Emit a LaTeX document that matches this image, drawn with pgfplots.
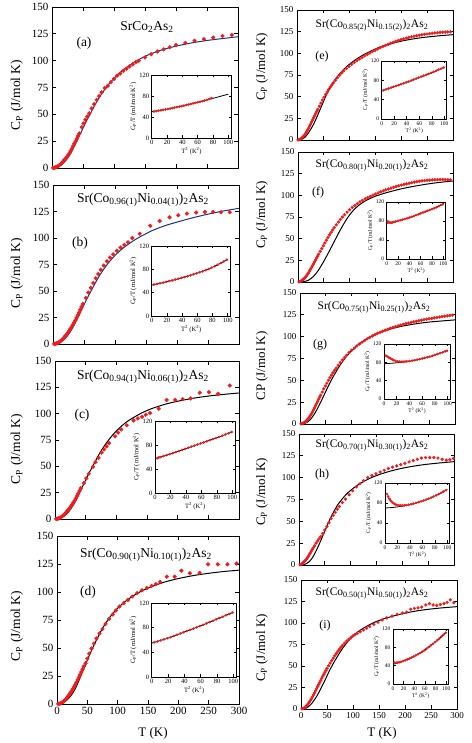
\documentclass[border=0pt]{standalone}
\usepackage{fontspec}
\setmainfont{Liberation Serif}
\usepackage{pgfplots}
\pgfplotsset{compat=1.18}
\definecolor{fitblue}{RGB}{30,50,130}
\definecolor{datred}{RGB}{238,28,28}
\newcommand{\fs}[1]{\fontsize{#1}{#1}\selectfont}
\newcommand{\cmp}[2]{Sr(Co\textsubscript{#1}Ni\textsubscript{#2})\textsubscript{2}As\textsubscript{2}}
\newcommand{\cpl}{C\textsubscript{P} (J/mol K)}

\pgfplotsset{
  mainL/.style={scale only axis, anchor=south west, xmin=0, xmax=300, ymin=0, ymax=150,
    xtick={0,50,...,300}, ytick={0,25,...,150}, tick align=inside, major tick length=4pt,
    axis line style={line width=0.9pt}, tick style={black, line width=0.7pt},
    /pgf/number format/assume math mode=true,
    tick label style={font=\fs{11}}},
  mainR/.style={mainL, tick label style={font=\fs{9}}, major tick length=3.5pt},
  ins/.style={scale only axis, anchor=south west, xmin=0, xmax=104, ymin=0, ymax=120,
    xtick={0,20,...,100}, ytick={0,40,80,120}, tick align=inside, major tick length=2.5pt,
    axis line style={line width=0.7pt}, tick style={black, line width=0.5pt},
    /pgf/number format/assume math mode=true,
    tick label style={font=\fs{6.5}}, label style={font=\fs{6.5}},
    xticklabel style={yshift=1pt}, yticklabel style={xshift=1pt},
    xlabel={T\textsuperscript{2} (K\textsuperscript{2})},
    ylabel={C\textsubscript{P}/T (mJ/mol K\textsuperscript{2})},
    xlabel style={yshift=4pt}, ylabel style={yshift=-4pt},
    axis background/.style={fill=white}},
  insR/.style={ins, tick label style={font=\fs{5.5}}, label style={font=\fs{5.5}}},
  dat/.style={only marks, mark=*, mark size=1.9pt, color=datred},
  datR/.style={only marks, mark=*, mark size=1.45pt, color=datred},
  idat/.style={only marks, mark=*, mark size=1.1pt, color=datred},
  fit/.style={black, line width=1pt, no marks, smooth},
  ifit/.style={black, line width=0.8pt, no marks, smooth},
}

\begin{document}
\begin{tikzpicture}
\path[use as bounding box] (0pt,0pt) rectangle (471pt,743pt);

% ---------------- (a)
\begin{axis}[mainL, at={(52pt,575pt)}, width=186pt, height=161pt, xticklabels={}]
\addplot[dat] coordinates {(2,0.1)(4,0.3)(6,0.6)(8,1.1)(10,1.8)(12,2.7)(14,3.7)(16,4.9)(18,6.1)(20,7.5)(22,8.9)(24,10.3)(26,11.9)(28,13.8)(30,15.9)(32,18)(34,20.3)(36,22.6)(38,25)(40,27.3)(42,29.7)(44,32.2)(48,38)(51,41.5)(54,45)(57,48)(60,51)(64,55.5)(68,59.5)(72,63.5)(76,67)(80,70.5)(85,74.5)(90,76.5)(95,80)(100,83)(105,86)(110,88)(115,90.5)(120,92.5)(125,94.5)(130,96.5)(135,98.5)(140,100)(150,103)(160,106)(170,108.5)(180,110.5)(190,112.5)(200,114.5)(215,116.5)(230,118.5)(245,120)(260,121.5)(275,123)(290,124)};
\addplot[fit, fitblue] coordinates {(0,0)(5,0.2)(10,1.0)(15,2.8)(20,5.5)(25,9)(30,13.5)(35,19)(40,25)(45,31)(50,37)(55,43)(60,48.5)(65,54)(70,59.5)(75,64.5)(80,69)(90,77)(100,83.5)(110,89)(120,93.5)(130,97.5)(140,101)(150,104)(160,106.5)(180,110.5)(200,113.5)(225,116.5)(250,118.8)(275,120.6)(300,122.3)};
\end{axis}
\begin{axis}[ins, at={(151.7pt,605pt)}, width=79.7pt, height=63pt]
\addplot[idat] coordinates {(3,50.5)(6,51.2)(9,52)(12,52.8)(15,53.6)(18,54.4)(21,55.2)(24,56)(27,56.8)(30,57.8)(33,58.8)(36,59.8)(39,60.8)(42,61.8)(45,62.8)(48,63.8)(51,64.8)(54,65.8)(57,66.9)(60,68)(63,69)(66,70.2)(69,71.4)(72,72.7)(75,74.2)(78,76)};
\addplot[ifit] coordinates {(0,50)(10,52.5)(20,55)(30,58)(40,61)(50,64.5)(60,68)(70,71.5)(80,75.5)(90,79.5)(100,83.5)};
\end{axis}

% ---------------- (b)
\begin{axis}[mainL, at={(53pt,399pt)}, width=186pt, height=159pt, xticklabels={}]
\addplot[dat] coordinates {(2,0.1)(4,0.3)(6,0.6)(8,1.1)(10,1.8)(12,2.7)(14,3.7)(16,4.9)(18,6.2)(20,7.6)(22,9.1)(24,10.7)(26,12.4)(28,14.2)(30,16.1)(32,18.1)(34,20.2)(36,22.4)(38,24.7)(40,27.1)(42,29.6)(44,32.2)(46,35)(48,37.8)(53,43.5)(57,48.5)(61,53)(65,57.5)(69,62)(73,66)(77,70)(82,74)(87,78)(92,81.5)(97,84.5)(103,88)(109,91)(115,93.5)(121,96)(128,100)(140,104)(157,111.5)(172,116)(188,119.5)(202,121.5)(216,123)(231,124)(245,124.5)(258,124.5)(271,124.3)(285,124.3)};
\addplot[fit, fitblue] coordinates {(0,0)(5,0.2)(10,1.0)(15,2.8)(20,5.5)(25,9)(30,13.5)(35,19)(40,25)(45,31)(50,37)(55,43)(60,48.5)(65,54)(70,59.5)(75,64.5)(80,69)(90,77)(100,83.5)(110,89)(120,93.5)(130,97.5)(140,101)(150,104)(160,107)(180,111.5)(200,115)(225,119)(250,122.5)(275,125.5)(300,128)};
\end{axis}
\begin{axis}[ins, at={(151.7pt,427pt)}, width=79pt, height=70pt]
\addplot[idat] coordinates {(3,53.8)(7,55)(11,56.2)(15,57.3)(19,58.6)(23,59.8)(27,61)(31,62.4)(35,63.8)(39,65.2)(43,66.6)(47,68.1)(51,69.7)(55,71.4)(59,73.1)(63,74.9)(67,76.6)(71,78.5)(75,80.6)(79,82.9)(83,85.4)(87,88)(91,90.7)(95,93.6)(99,96.5)};
\addplot[ifit] coordinates {(0,53)(10,55.8)(20,58.8)(30,62)(40,65.5)(50,69.3)(60,73.5)(70,78)(80,83.5)(90,90)(100,97)};
\end{axis}

% ---------------- (c)
\begin{axis}[mainL, at={(55pt,224pt)}, width=184pt, height=158pt, xticklabels={}]
\addplot[dat] coordinates {(2,0.1)(4,0.3)(6,0.6)(8,1.1)(10,1.8)(12,2.7)(14,3.7)(16,4.9)(18,6.1)(20,7.5)(22,8.9)(24,10.4)(26,12)(28,13.7)(30,15.5)(32,17.5)(34,19.6)(36,21.8)(38,24.2)(40,26.7)(42,29.2)(47,34)(51,38.6)(55,43)(62,49.6)(66,54)(71,58)(76,63)(80,66)(84,69)(88,72)(98,78.5)(103,82)(108,85)(117,89)(128,93.6)(135,95.5)(142,97)(148,99)(155,100.6)(169,104.7)(182,113)(196,113)(208,113.8)(221,114.5)(236,119.8)(251,120.4)(266,118.9)(285,126.7)};
\addplot[fit] coordinates {(0,0)(5,0.2)(10,1.0)(15,2.8)(20,5.5)(25,9)(30,13.5)(35,19)(40,25)(45,31)(50,37)(55,43)(60,48.5)(65,54)(70,59.5)(75,64.5)(80,69)(90,77)(100,83.5)(110,89)(120,93.5)(130,97)(140,100.3)(150,103)(160,105.3)(180,109)(200,111.8)(225,114.6)(250,116.7)(275,118.3)(300,119.6)};
\end{axis}
\begin{axis}[ins, at={(155pt,250pt)}, width=80.4pt, height=72pt]
\addplot[idat] coordinates {(3,58)(5,59.3)(7,59.8)(11,61.5)(15,63)(19,64.8)(23,66.4)(27,68.1)(31,70)(35,71.8)(39,73.6)(43,75.4)(47,77.2)(51,79)(55,80.8)(59,82.6)(63,84.3)(67,86.1)(71,88)(75,89.8)(79,91.6)(83,93.5)(87,95.5)(91,97.5)(95,99.5)(99,101.5)};
\addplot[ifit] coordinates {(0,57)(10,61)(20,65)(30,69.5)(40,74)(50,78.5)(60,83)(70,87.5)(80,92)(90,97)(100,102)};
\end{axis}

% ---------------- (d)
\begin{axis}[mainL, at={(57pt,39pt)}, width=182pt, height=168pt]
\addplot[dat] coordinates {(2,0.1)(4,0.3)(6,0.6)(8,1.2)(10,2)(12,2.9)(14,4)(16,5.3)(18,6.7)(20,8.2)(22,9.8)(24,11.5)(26,13.3)(28,15.2)(30,17.2)(32,19.3)(34,21.5)(36,23.8)(38,26.2)(40,28.6)(42,31)(44,33.5)(47,36.3)(50,40.5)(53,45)(57,49.5)(61,54)(65,58.5)(70,63)(75,67)(80,71.5)(86,76)(92,80)(97,83.5)(103,87)(110,90)(117,93)(124,96)(132,99)(140,101.5)(148,103.5)(156,105.5)(163,107)(170,109)(181,113.7)(194,113.7)(205,119)(219,116.7)(235,117)(249,124.7)(265,124.7)(281,124.7)(296,125.5)};
\addplot[fit] coordinates {(0,0)(5,0.2)(10,1.0)(15,2.8)(20,5.5)(25,9)(30,13.5)(35,19.5)(40,26)(45,32.5)(50,39)(55,45.5)(60,51.5)(65,57)(70,62.5)(75,67.5)(80,72)(90,79.5)(100,85.5)(110,90.5)(120,94.5)(130,98)(140,101)(150,103.5)(160,105.7)(180,109.3)(200,112)(225,114.7)(250,116.7)(275,118.3)(300,119.5)};
\end{axis}
\begin{axis}[ins, at={(151.7pt,66pt)}, width=84.9pt, height=74pt]
\addplot[idat] coordinates {(3,56)(7,57.5)(11,59.4)(15,61)(19,62.8)(23,64.5)(27,66.4)(31,68.5)(35,70.5)(39,72.5)(43,74.5)(47,76.5)(51,78.5)(55,80.5)(59,82.5)(63,84.6)(67,86.8)(71,89)(75,91.2)(79,93.4)(83,95.6)(87,97.8)(91,100)(95,102.3)(99,104.5)};
\addplot[ifit] coordinates {(0,55)(10,59)(20,63)(30,68)(40,73)(50,78)(60,83)(70,88.5)(80,94)(90,99.5)(100,105)};
\end{axis}

% ---------------- (e)
\begin{axis}[mainR, at={(297pt,603pt)}, width=156pt, height=130pt, xticklabels={}]
\addplot[datR] coordinates {(2,0.1)(4,0.4)(6,0.9)(8,1.7)(10,2.7)(12,4)(14,5.5)(16,7.2)(18,9.1)(20,11.2)(22,13.4)(24,15.7)(26,18.1)(28,20.6)(30,23.1)(32,25.6)(34,28.1)(36,30.6)(38,33)(40,35.4)(43,39)(46,42.5)(49,46)(52,49.3)(55,52.5)(58,55.5)(61,58.3)(64,61)(67,63.5)(70,66)(74,69)(78,72)(82,74.8)(86,77.4)(90,79.8)(95,82.5)(100,85)(105,87.3)(110,89.5)(115,91.5)(120,93.5)(125,95.3)(130,97.1)(135,98.8)(140,100.4)(145,102)(150,103.5)(155,105)(160,106.4)(165,107.8)(170,109.1)(175,110.4)(180,111.6)(185,112.7)(190,113.8)(195,114.8)(200,115.8)(205,116.7)(210,117.5)(215,118.3)(220,119)(225,119.7)(230,120.3)(235,120.9)(240,121.4)(245,121.9)(250,122.3)(255,122.7)(260,123.1)(265,123.5)(270,123.8)(275,124.1)(280,124.3)(285,124.5)(290,124.7)(295,124.8)};
\addplot[fit] coordinates {(0,0)(5,0.2)(10,1)(15,3)(20,6.5)(25,11)(30,16)(35,22)(40,29)(45,36)(50,43)(55,50)(60,56.5)(65,62)(70,67)(80,75)(90,81.5)(100,87)(110,91.5)(120,95.5)(130,99)(140,102)(150,104.8)(160,107.2)(180,111)(200,114)(225,116.8)(250,118.8)(275,120.3)(300,121.5)};
\end{axis}
\begin{axis}[insR, at={(381.7pt,624pt)}, width=65.1pt, height=58pt]
\addplot[idat] coordinates {(3,59.5)(7,61.3)(11,63.1)(15,64.9)(19,66.7)(23,68.4)(27,70.2)(31,72)(35,73.8)(39,75.6)(43,77.5)(47,79.5)(51,81.5)(55,83.5)(59,85.5)(63,87.5)(67,89.5)(71,91.5)(75,93.5)(79,95.5)(83,97.6)(87,99.8)(91,102)(95,104.2)(99,106.5)};
\addplot[ifit] coordinates {(0,58)(10,62.5)(20,67)(30,71.5)(40,76)(50,81)(60,86)(70,91)(80,96)(90,101.5)(100,107)};
\end{axis}

% ---------------- (f)
\begin{axis}[mainR, at={(298pt,461pt)}, width=155pt, height=130pt, xticklabels={}]
\addplot[datR] coordinates {(2,0.2)(4,0.6)(6,1.2)(8,2)(10,2.9)(12,4)(14,5.3)(16,6.8)(18,8.5)(20,10.3)(22,12.3)(24,14.4)(26,16.6)(28,18.8)(30,21)(32,23.2)(34,25.4)(36,27.6)(38,29.8)(40,32)(43,35.3)(46,38.6)(49,41.8)(52,45)(55,48.2)(58,51.3)(61,54.3)(64,57.2)(67,60)(70,62.7)(74,66)(78,69.2)(82,72.2)(86,75)(90,77.6)(95,80.6)(100,83.4)(105,86)(110,88.3)(115,90.4)(120,92.4)(125,94.2)(130,95.9)(135,97.4)(140,98.8)(145,100.2)(150,101.5)(155,102.8)(160,104)(165,105.2)(170,106.3)(175,107.3)(180,108.3)(185,109.3)(190,110.2)(195,111)(200,111.8)(205,112.6)(210,113.3)(215,114)(220,114.6)(225,115.2)(230,115.7)(235,116.2)(240,116.6)(245,117)(250,117.4)(255,117.6)(260,117.8)(265,118)(270,118.1)(275,118.2)(280,118.2)(285,118.1)(290,118)(295,117.9)};
\addplot[fit] coordinates {(0,0)(10,0.3)(20,2)(30,6.5)(40,14)(50,24)(60,35)(70,46.5)(80,58)(90,68.5)(100,77.5)(110,84.5)(120,89.5)(130,93.5)(140,96.5)(150,99)(165,102)(180,104.5)(200,107.5)(225,110.5)(250,113)(275,115)(300,116.5)};
\end{axis}
\begin{axis}[insR, at={(386.7pt,484pt)}, width=58.9pt, height=57pt]
\addplot[idat] coordinates {(2,79)(4,77.5)(6,76.5)(8,76.5)(10,77)(13,78)(16,79)(20,80.3)(24,81.5)(28,82.8)(32,84.2)(36,85.6)(40,87.1)(44,88.8)(48,90.5)(52,92.3)(56,94.1)(60,96)(64,97.8)(68,99.6)(72,101.4)(76,103.2)(80,105)(84,107)(88,109.1)(92,111.3)(96,113.6)(99,115.4)};
\addplot[ifit] coordinates {(0,75)(10,77.3)(20,80)(30,83.3)(40,87)(50,91.3)(60,96)(70,100.5)(80,105)(90,110.3)(100,116)};
\end{axis}

% ---------------- (g)
\begin{axis}[mainR, at={(300pt,319pt)}, width=155pt, height=131pt, xticklabels={}]
\addplot[datR] coordinates {(2,0.2)(4,0.5)(6,1)(8,1.6)(10,2.4)(12,3.4)(14,4.6)(16,6.1)(18,7.8)(20,9.6)(22,11.6)(24,13.8)(26,16.1)(28,18.5)(30,21)(32,23.4)(34,25.8)(36,28.2)(38,30.6)(40,33)(43,36.6)(46,40.2)(49,43.5)(52,46.8)(55,50)(58,53)(61,56)(64,58.8)(67,61.5)(70,64)(74,67.2)(78,70.3)(82,73.2)(86,76)(90,78.6)(95,81.7)(100,84.5)(105,87)(110,89.4)(115,91.6)(120,93.6)(125,95.6)(130,97.5)(135,99.2)(140,100.8)(145,102.3)(150,103.7)(155,105)(160,106.2)(165,107.4)(170,108.5)(175,109.6)(180,110.6)(185,111.5)(190,112.4)(195,113.3)(200,114.1)(205,114.9)(210,115.6)(215,116.3)(220,117)(225,117.6)(230,118.2)(235,118.8)(240,119.4)(245,120)(250,120.5)(255,121)(260,121.5)(265,122)(270,122.5)(275,123)(280,123.4)(285,123.8)(290,124.2)(295,124.7)};
\addplot[fit] coordinates {(0,0)(5,0.2)(10,0.8)(15,2.5)(20,5)(25,9)(30,13.5)(35,19)(40,25)(45,31.2)(50,37.5)(55,43.6)(60,49.5)(65,55)(70,60)(75,65)(80,69.5)(90,77.5)(100,84)(110,89.5)(120,94)(140,101)(160,106)(180,109.5)(200,112.3)(225,114.8)(250,116.7)(275,118)(300,119.2)};
\end{axis}
\begin{axis}[insR, at={(384pt,344pt)}, width=66.2pt, height=55pt]
\addplot[idat] coordinates {(3,94.5)(5,93)(7,91.2)(9,89.3)(11,87.6)(13,86.1)(15,84.8)(18,83.2)(21,82.2)(24,81.6)(27,81.3)(30,81.3)(33,81.6)(36,82)(40,82.7)(44,83.7)(48,84.7)(52,85.8)(56,87)(60,88.3)(64,89.7)(68,91.1)(72,92.6)(76,94.3)(80,96.2)(84,98)(88,99.8)(92,101.8)(96,103.8)(99,105.4)};
\addplot[ifit] coordinates {(0,77)(10,77.8)(20,79)(30,80.6)(40,82.5)(50,85)(60,88)(70,91.6)(80,96)(90,100.8)(100,106)};
\end{axis}

% ---------------- (h)
\begin{axis}[mainR, at={(299pt,178pt)}, width=155pt, height=131pt, xticklabels={}]
\addplot[datR] coordinates {(2,0.2)(4,0.7)(6,1.5)(8,2.5)(10,3.7)(12,5)(14,6.5)(16,8.2)(18,10)(20,12)(22,14)(24,16)(26,18)(28,20)(30,22)(33,25)(36,27.5)(39,30)(42,32.5)(46,36)(50,40)(54,44)(58,48.5)(62,53)(66,57)(70,60.5)(74,64)(78,67)(84,71.5)(90,75.5)(97,80.5)(104,85)(111,89.5)(118,93)(125,96.5)(133,100)(141,102.5)(149,104.5)(157,106.5)(165,108.5)(173,110.5)(181,112)(189,113.5)(197,115)(205,116.5)(213,118)(221,119.5)(229,121)(237,122.5)(245,123)(253,123)(261,123)(269,122.5)(277,121)(285,120)(292,120.5)(299,122)};
\addplot[fit] coordinates {(0,0)(10,0.5)(15,1.8)(20,4)(25,7.5)(30,12.5)(35,18.5)(40,25)(45,32)(50,39)(55,46)(60,52.5)(65,58.5)(70,64)(75,69)(80,73)(90,80)(100,85.5)(110,90)(120,94)(140,100)(160,104.5)(180,108)(200,110.8)(225,113.5)(250,115.5)(275,117)(300,118.3)};
\end{axis}
\begin{axis}[insR, at={(385pt,200pt)}, width=64.8pt, height=60pt]
\addplot[idat] coordinates {(3,98)(5,93)(7,88.5)(9,85)(11,82.2)(13,80)(15,78.3)(17,77)(19,76.2)(22,75.5)(25,75.2)(28,75)(31,75.2)(34,75.8)(38,76.6)(42,77.6)(46,78.8)(50,80.2)(54,81.8)(58,83.4)(62,85)(66,86.8)(70,88.7)(74,90.8)(78,93)(82,95.3)(86,97.7)(90,100.3)(94,102.9)(98,105.6)};
\addplot[ifit] coordinates {(0,70)(10,70.8)(20,72.2)(30,74.2)(40,76.8)(50,80)(60,84)(70,88.5)(80,94)(90,100.2)(100,107)};
\end{axis}

% ---------------- (i)
\begin{axis}[mainR, at={(301pt,34pt)}, width=156pt, height=129pt]
\addplot[datR] coordinates {(2,0.2)(4,0.6)(6,1.3)(8,2.2)(10,3.3)(12,4.6)(14,6.2)(16,8)(18,10)(20,12)(22,14.2)(24,16.5)(26,18.9)(28,21.3)(30,23.7)(32,26.1)(34,28.5)(36,31)(38,33.4)(40,35.8)(42,38.2)(44,40.5)(46,42.8)(48,45)(50,47.2)(53,50.3)(56,53.4)(59,56.3)(62,59.2)(65,62)(68,64.6)(71,67.2)(74,69.6)(77,72)(80,74)(84,76.5)(88,79)(92,81)(96,83)(100,85)(104,86.5)(108,88)(114,90)(120,92)(126,94)(132,96)(140,98.5)(148,101)(156,103.5)(165,106)(175,108)(185,110)(195,111.5)(203,112.5)(211,116)(218,117)(225,117.5)(232,118.5)(240,121)(247,122.5)(254,121)(261,120.5)(268,121.5)(275,122.5)(281,124)(287,127)(294,123.5)};
\addplot[fit] coordinates {(0,0)(10,1)(15,3)(20,6)(25,10)(30,14.5)(35,20)(40,26)(45,32)(50,38.5)(55,45)(60,50.5)(65,56)(70,61)(75,66)(80,70.5)(90,78.5)(100,85)(110,90)(120,94)(140,100.5)(160,105)(180,108.5)(200,111.5)(225,114.3)(250,116.3)(275,117.8)(300,119)};
\end{axis}
\begin{axis}[insR, at={(393pt,59pt)}, width=55.4pt, height=55pt]
\addplot[idat] coordinates {(3,46.5)(6,46.5)(9,46.8)(12,47.5)(15,48.5)(19,50)(23,51.8)(27,53.6)(31,55.5)(35,57.8)(39,60)(43,62.4)(47,65)(51,67.7)(55,70.6)(59,73.7)(63,77)(67,80.4)(71,84)(75,87.7)(79,91.5)(83,95.4)(87,99.3)(91,103.4)(95,107.7)(99,112)};
\addplot[ifit] coordinates {(0,43)(10,46.3)(20,50.3)(30,55)(40,60.5)(50,67)(60,74.5)(70,83)(80,92.5)(90,102.5)(100,113)};
\end{axis}

% ---------------- titles, panel letters, axis labels
\node[font=\fs{13.5}] at (147pt,716pt) {SrCo\textsubscript{2}As\textsubscript{2}};
\node[font=\fs{13.5}] at (84pt,700pt) {(a)};
\node[font=\fs{13.5}] at (143pt,543pt) {\cmp{0.96(1)}{0.04(1)}};
\node[font=\fs{13.5}] at (80pt,500pt) {(b)};
\node[font=\fs{13.5}] at (143pt,366pt) {\cmp{0.94(1)}{0.06(1)}};
\node[font=\fs{13.5}] at (82pt,328pt) {(c)};
\node[font=\fs{13.5}] at (146pt,188pt) {\cmp{0.90(1)}{0.10(1)}};
\node[font=\fs{13.5}] at (88pt,151pt) {(d)};

\node[font=\fs{11.5}] at (372pt,718pt) {\cmp{0.85(2)}{0.15(2)}};
\node[font=\fs{12}] at (322pt,686pt) {(e)};
\node[font=\fs{11.5}] at (372pt,578pt) {\cmp{0.80(1)}{0.20(1)}};
\node[font=\fs{12}] at (318pt,550pt) {(f)};
\node[font=\fs{11.5}] at (374pt,436pt) {\cmp{0.75(1)}{0.25(1)}};
\node[font=\fs{12}] at (320pt,398pt) {(g)};
\node[font=\fs{11.5}] at (372pt,298pt) {\cmp{0.70(1)}{0.30(1)}};
\node[font=\fs{12}] at (322pt,268pt) {(h)};
\node[font=\fs{11.5}] at (372pt,150pt) {\cmp{0.50(1)}{0.50(1)}};
\node[font=\fs{12}] at (325pt,117pt) {(i)};

\node[font=\fs{13.5}, rotate=90] at (17pt,648pt) {\cpl};
\node[font=\fs{13.5}, rotate=90] at (17pt,470pt) {\cpl};
\node[font=\fs{13.5}, rotate=90] at (17pt,294pt) {\cpl};
\node[font=\fs{13.5}, rotate=90] at (17pt,117pt) {\cpl};
\node[font=\fs{13}, rotate=90] at (262pt,676pt) {\cpl};
\node[font=\fs{13}, rotate=90] at (262pt,528pt) {\cpl};
\node[font=\fs{13}, rotate=90] at (262pt,377pt) {CP (J/mol K)};
\node[font=\fs{13}, rotate=90] at (262pt,251pt) {\cpl};
\node[font=\fs{13}, rotate=90] at (262pt,95pt) {\cpl};

\node[font=\fs{13}] at (153pt,10pt) {T (K)};
\node[font=\fs{13}] at (382pt,10pt) {T (K)};
\end{tikzpicture}
\end{document}
